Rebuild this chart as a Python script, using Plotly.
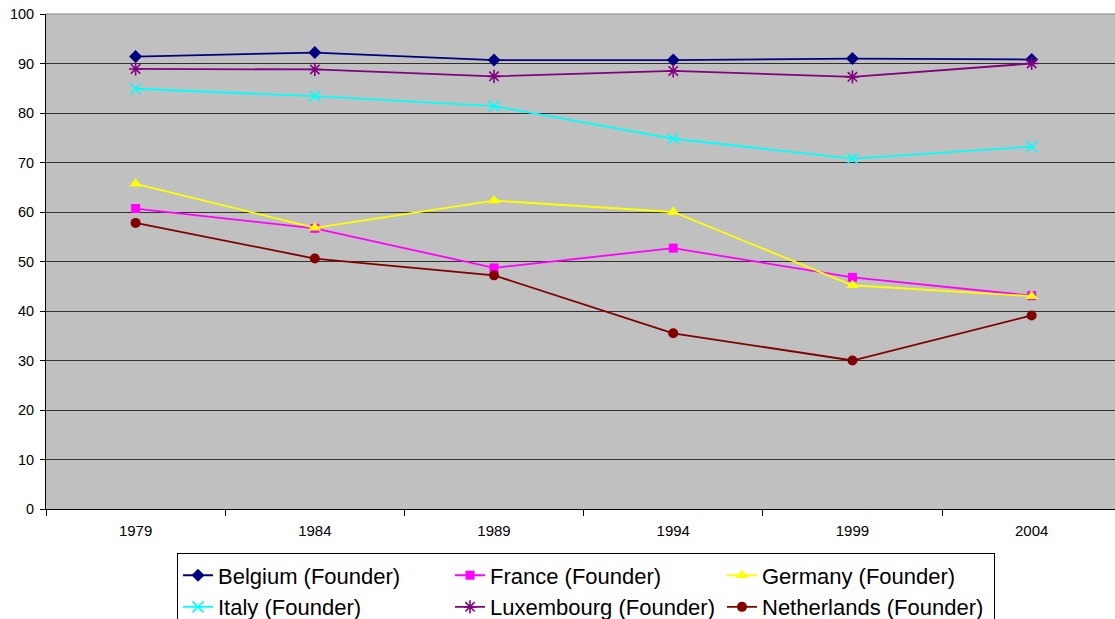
import plotly.graph_objects as go

years = ["1979", "1984", "1989", "1994", "1999", "2004"]
belgium = [91.4, 92.2, 90.7, 90.7, 91.0, 90.8]
france = [60.7, 56.7, 48.7, 52.7, 46.8, 43.1]
germany = [65.7, 56.8, 62.3, 60.0, 45.2, 43.0]
italy = [84.9, 83.4, 81.4, 74.8, 70.8, 73.2]
luxembourg = [88.9, 88.8, 87.4, 88.5, 87.3, 90.0]
netherlands = [57.8, 50.6, 47.2, 35.5, 30.0, 39.1]
y_ticks = list(range(0, 101, 10))

series = [
    ("Belgium (Founder)", belgium, "#000080", "diamond", 10, 0),
    ("France (Founder)", france, "#FF00FF", "square", 9, 0),
    ("Germany (Founder)", germany, "#FFFF00", "triangle-up", 11, 0),
    ("Italy (Founder)", italy, "#00FFFF", "x-thin", 11, 1.6),
    ("Luxembourg (Founder)", luxembourg, "#800080", "asterisk", 11, 1.6),
    ("Netherlands (Founder)", netherlands, "#800000", "circle", 10, 0),
]

fig = go.Figure()
for name, vals, color, sym, size, lw in series:
    fig.add_trace(go.Scatter(
        x=years, y=vals, name=name, mode="lines+markers",
        line=dict(color=color, width=1.8),
        marker=dict(symbol=sym, size=size, color=color,
                    line=dict(color=color, width=lw)),
    ))

# plot area in page: x 46..1122 (cut at 1115), y 14..509.5
fig.update_layout(
    width=1115, height=619,
    margin=dict(l=46, r=0, t=14, b=109.5, autoexpand=False),
    paper_bgcolor="white",
    plot_bgcolor="#C0C0C0",
    font=dict(family="Arial, Liberation Sans, sans-serif", color="black"),
    showlegend=True,
    legend=dict(
        orientation="h",
        x=(177 - 46) / 1069, xanchor="left",
        y=-0.0898, yanchor="top",
        bgcolor="white", bordercolor="black", borderwidth=1,
        font=dict(size=22, family="Arial, Liberation Sans, sans-serif"),
        entrywidth=227, entrywidthmode="pixels",
        traceorder="normal",
    ),
    xaxis=dict(
        type="category",
        range=[-0.5, 5.465],
        tickson="boundaries",
        ticks="outside", ticklen=6, tickcolor="black",
        ticklabelstandoff=8,
        showgrid=False,
        showline=True, linecolor="black", linewidth=1,
        tickfont=dict(size=15),
        zeroline=False,
    ),
    yaxis=dict(
        range=[0, 100],
        tickvals=y_ticks,
        ticks="outside", ticklen=5, tickcolor="black",
        ticklabelstandoff=3,
        showgrid=True, gridcolor="#303030", gridwidth=1,
        showline=True, linecolor="black", linewidth=1,
        tickfont=dict(size=14.5),
        zeroline=False,
    ),
)
fig.add_shape(type="line", xref="paper", yref="paper", x0=0, x1=1, y0=1, y1=1,
              line=dict(color="#808080", width=1))

fig.write_html("out.html", config={"displayModeBar": False},
               post_script="document.body.style.margin='0';document.body.style.overflow='hidden';")
